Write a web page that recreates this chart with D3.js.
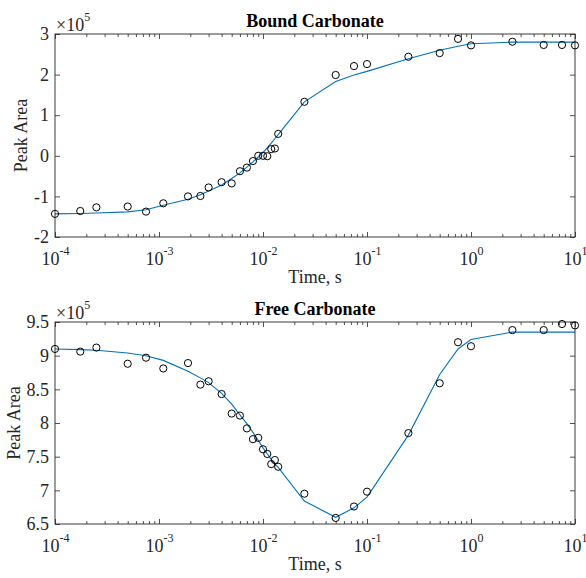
<!DOCTYPE html>
<html>
<head>
<meta charset="utf-8">
<script src="https://cdn.jsdelivr.net/npm/d3@7"></script>
<style>
  body { margin: 0; background: #fff; }
  svg { display: block; font-family: "Liberation Serif", "Times New Roman", serif; }
</style>
</head>
<body>
<div id="chart"></div>
<script>
/* DATA (peak areas in units of 1e5) */
const times = [1e-4, 1.75e-4, 2.5e-4, 5e-4, 7.5e-4, 1.1e-3, 1.9e-3, 2.5e-3, 3e-3, 4e-3,
  5e-3, 6e-3, 7e-3, 8e-3, 9e-3, 1e-2, 1.1e-2, 1.2e-2, 1.3e-2, 1.4e-2,
  2.5e-2, 5e-2, 7.5e-2, 0.1, 0.25, 0.5, 0.75, 1, 2.5, 5, 7.5, 10];

const boundMeasured = [-1.43, -1.36, -1.27, -1.25, -1.375, -1.17, -1.0, -0.99, -0.78, -0.65,
  -0.68, -0.38, -0.29, -0.13, 0.0, 0.0, -0.01, 0.165, 0.18, 0.54,
  1.33, 1.99, 2.21, 2.26, 2.44, 2.53, 2.88, 2.72, 2.81, 2.73, 2.73, 2.72];
const boundFit = [-1.43, -1.42, -1.41, -1.38, -1.33, -1.22, -1.07, -0.96, -0.87, -0.72,
  -0.56, -0.42, -0.28, -0.15, -0.03, 0.08, 0.2, 0.31, 0.42, 0.52,
  1.33, 1.83, 1.99, 2.08, 2.39, 2.60, 2.70, 2.76, 2.80, 2.80, 2.80, 2.80];

const freeMeasured = [9.10, 9.06, 9.12, 8.88, 8.97, 8.81, 8.89, 8.57, 8.62, 8.43,
  8.14, 8.11, 7.92, 7.76, 7.78, 7.61, 7.54, 7.39, 7.45, 7.35,
  6.95, 6.59, 6.76, 6.98, 7.85, 8.59, 9.20, 9.14, 9.38, 9.38, 9.47, 9.45];
const freeFit = [9.10, 9.09, 9.08, 9.04, 9.00, 8.93, 8.77, 8.67, 8.60, 8.44,
  8.28, 8.12, 7.99, 7.86, 7.74, 7.63, 7.54, 7.46, 7.39, 7.34,
  6.84, 6.60, 6.74, 6.90, 7.82, 8.72, 9.10, 9.24, 9.35, 9.35, 9.35, 9.35];

const xMajorTicks = [1e-4, 1e-3, 1e-2, 1e-1, 1, 10];
const boundTicks = [-2, -1, 0, 1, 2, 3];
const freeTicks = [6.5, 7, 7.5, 8, 8.5, 9, 9.5];

/* LAYOUT */
const width = 586, height = 578;
const left = 55, right = 575;
const fontSize = 18, supSize = 12;
const axisColor = "#262626";
const lineColor = "#0072BD";

const svg = d3.select("#chart").append("svg")
  .attr("width", width)
  .attr("height", height);

const xScale = d3.scaleLog().domain([1e-4, 10]).range([left, right]);

// minor ticks 2..9 in every decade
const xMinorTicks = [];
for (let e = -4; e < 1; e++) {
  for (let m = 2; m <= 9; m++) xMinorTicks.push(m * Math.pow(10, e));
}

function drawPanel(cfg) {
  const { top, bottom, yDomain, yTicks, measured, fit, title, labelX } = cfg;
  const yScale = d3.scaleLinear().domain(yDomain).range([bottom, top]);
  const g = svg.append("g");

  // fit line
  g.append("path")
    .datum(times.map((t, i) => [t, fit[i]]))
    .attr("fill", "none")
    .attr("stroke", lineColor)
    .attr("stroke-width", 1.1)
    .attr("d", d3.line().x(d => xScale(d[0])).y(d => yScale(d[1])));

  // bottom axis with labels
  const xb = g.append("g")
    .attr("transform", `translate(0,${bottom})`)
    .call(d3.axisBottom(xScale).tickValues(xMajorTicks).tickSize(-5).tickFormat(() => ""));
  xb.selectAll("text").each(function(d) {
    const t = d3.select(this)
      .attr("fill", axisColor)
      .attr("font-size", fontSize)
      .attr("y", 28)
      .attr("dy", null);
    t.append("tspan").text("10");
    t.append("tspan").attr("font-size", supSize).attr("dy", "-0.8em").text(Math.round(Math.log10(d)));
  });
  g.append("g")
    .attr("transform", `translate(0,${bottom})`)
    .call(d3.axisBottom(xScale).tickValues(xMinorTicks).tickSize(-3).tickFormat(""));

  // top axis ticks
  g.append("g")
    .attr("transform", `translate(0,${top})`)
    .call(d3.axisTop(xScale).tickValues(xMajorTicks).tickSize(-5).tickFormat(""));
  g.append("g")
    .attr("transform", `translate(0,${top})`)
    .call(d3.axisTop(xScale).tickValues(xMinorTicks).tickSize(-3).tickFormat(""));

  // left / right axes
  g.append("g")
    .attr("transform", `translate(${left},0)`)
    .call(d3.axisLeft(yScale).tickValues(yTicks).tickSize(-5).tickPadding(6).tickFormat(d => String(d)))
    .selectAll("text")
      .attr("fill", axisColor)
      .attr("font-size", fontSize);
  g.append("g")
    .attr("transform", `translate(${right},0)`)
    .call(d3.axisRight(yScale).tickValues(yTicks).tickSize(-5).tickFormat(""));

  g.selectAll(".domain").remove();
  g.selectAll(".tick line").attr("stroke", axisColor).attr("stroke-width", 0.8);
  g.selectAll(".tick text").attr("font-family", "Liberation Serif, serif");

  // box
  g.append("rect")
    .attr("x", left).attr("y", top)
    .attr("width", right - left).attr("height", bottom - top)
    .attr("fill", "none")
    .attr("stroke", axisColor)
    .attr("stroke-width", 0.9);

  // markers
  g.selectAll("circle")
    .data(times.map((t, i) => [t, measured[i]]))
    .join("circle")
    .attr("cx", d => xScale(d[0]))
    .attr("cy", d => yScale(d[1]))
    .attr("r", 3.6)
    .attr("fill", "none")
    .attr("stroke", "#000")
    .attr("stroke-width", 1);

  // exponent label
  const ex = g.append("text")
    .attr("x", left + 1).attr("y", top - 3)
    .attr("fill", axisColor)
    .attr("font-size", fontSize);
  ex.append("tspan").text("\u00d710");
  ex.append("tspan").attr("font-size", supSize).attr("dy", "-0.8em").text("5");

  // title
  g.append("text")
    .attr("x", (left + right) / 2).attr("y", top - 7)
    .attr("text-anchor", "middle")
    .attr("font-weight", "bold")
    .attr("font-size", fontSize)
    .attr("fill", "#000")
    .text(title);

  // axis labels
  g.append("text")
    .attr("x", (left + right) / 2).attr("y", bottom + 46)
    .attr("text-anchor", "middle")
    .attr("font-size", fontSize)
    .attr("fill", axisColor)
    .text("Time, s");
  g.append("text")
    .attr("transform", `translate(${labelX},${(top + bottom) / 2}) rotate(-90)`)
    .attr("text-anchor", "middle")
    .attr("font-size", fontSize)
    .attr("fill", axisColor)
    .text("Peak Area");
}

drawPanel({ top: 34, bottom: 237, yDomain: [-2, 3], yTicks: boundTicks,
  measured: boundMeasured, fit: boundFit, title: "Bound Carbonate", labelX: 27 });
drawPanel({ top: 322, bottom: 524, yDomain: [6.5, 9.5], yTicks: freeTicks,
  measured: freeMeasured, fit: freeFit, title: "Free Carbonate", labelX: 20 });
</script>
</body>
</html>
